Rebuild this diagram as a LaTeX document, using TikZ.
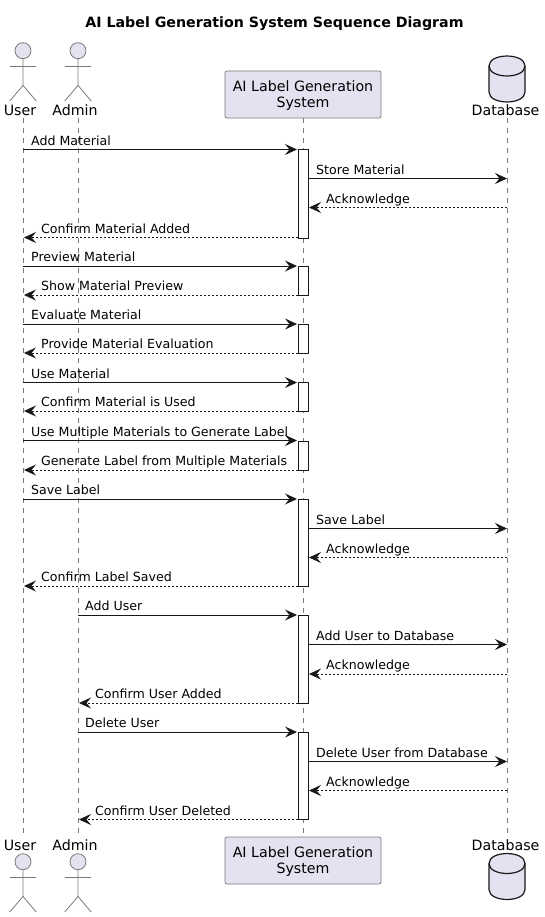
\documentclass[tikz,border=0pt]{standalone}
\usepackage{fontspec}
\setmainfont{DejaVu Sans}
\usetikzlibrary{arrows.meta,shapes.geometric}
\definecolor{pfill}{HTML}{E2E2F0}
\definecolor{pline}{HTML}{181818}
\definecolor{aline}{HTML}{7A7A7A}
\tikzset{
  x=1pt,y=-1pt,
  life/.style={draw=aline,line width=.6pt,dash pattern=on 5pt off 5pt},
  actorline/.style={draw=aline,line width=.8pt},
  tip/.style={-{Stealth[length=12pt,width=11pt,inset=4.5pt,fill=pline]}},
  sync/.style={draw=pline,line width=1pt,tip},
  reply/.style={draw=pline,line width=.8pt,dash pattern=on 2pt off 2pt,tip},
  msgtext/.style={font=\fontsize{12.6}{15}\selectfont,text=black,inner sep=0pt,anchor=base west},
  ptext/.style={font=\fontsize{14.2}{16.5}\selectfont,text=black,inner sep=0pt,anchor=center,align=center},
  sysbox/.style={draw=aline,fill=pfill,rounded corners=2pt,line width=.7pt,minimum width=156pt,minimum height=47pt,inner sep=0pt},
  activ/.style={draw=pline,fill=white,line width=.9pt},
}
\newcommand{\actorfig}[3]{%
  \node[circle,draw=aline,fill=pfill,line width=.8pt,minimum size=16pt,inner sep=0pt] (#3head) at (#1,#2) {};
  \draw[actorline] (#3head.south) -- ++(0,26.3) coordinate (#3hip) -- ++(-13.3,15.7) coordinate (#3ll);
  \draw[actorline] (#3hip) -- ++(13.3,15.7) coordinate (#3rl);
  \draw[actorline] (#1-13.3,#2+15.6) -- (#1+13.3,#2+15.6);
}
\newcommand{\dbfig}[3]{%
  \draw[draw=pline,fill=pfill,line width=1.2pt] (#1-18,#2+10) .. controls (#1-18,#2-3.3) and (#1+18,#2-3.3) .. (#1+18,#2+10) -- (#1+18,#2+36)
    .. controls (#1+18,#2+49.3) and (#1-18,#2+49.3) .. (#1-18,#2+36) -- cycle;
  \draw[draw=pline,line width=1.2pt] (#1-18,#2+10) .. controls (#1-18,#2+23.3) and (#1+18,#2+23.3) .. (#1+18,#2+10);
  \coordinate (#3) at (#1,#2);
}
\newcommand{\msg}[6]{% name, style, from x, to x, y, label
  \coordinate (#1a) at (#3,#5);
  \coordinate (#1b) at (#4,#5);
  \draw[#2] (#1a) -- (#1b);
  \node[msgtext] (#1t) at (\lx,#5-4.2) {#6};%
}
\begin{document}
\begin{tikzpicture}
\useasboundingbox (0,0) rectangle (545,917);
\node[font=\bfseries\fontsize{14.2}{16}\selectfont,inner sep=0pt] (title) at (274.5,23.5) {AI Label Generation System Sequence Diagram};

% participant labels and boxes
\node[ptext] (userT) at (20,110) {User};
\node[ptext] (adminT) at (75,110) {Admin};
\node[sysbox] (sysT) at (303,94.5) {};
\node[ptext] (sysTt) at (303,95.7) {AI Label Generation\\[-0.3pt]System};
\node[ptext] (dbT) at (505.5,110) {Database};
\node[ptext] (userB) at (20,845.5) {User};
\node[ptext] (adminB) at (75,845.5) {Admin};
\node[sysbox] (sysB) at (303,860.5) {};
\node[ptext] (sysBt) at (303,861.5) {AI Label Generation\\[-0.3pt]System};
\node[ptext] (dbB) at (505.5,845.5) {Database};

% lifelines
\coordinate (uT) at (23,118); \coordinate (uB) at (23,834);
\coordinate (aT) at (78,118); \coordinate (aB) at (78,834);
\coordinate (dT) at (507,118); \coordinate (dB) at (507,834);
\draw[life] (uT) -- (uB);
\draw[life] (aT) -- (aB);
\draw[life] (sysT.south) -- (sysB.north);
\draw[life] (dT) -- (dB);

% actors and databases
\actorfig{23}{50.7}{ua}
\actorfig{78}{50.7}{ad}
\dbfig{507}{56}{dbtop}
\actorfig{23}{861.7}{ub}
\actorfig{78}{861.7}{bd}
\dbfig{507}{853.5}{dbbot}

% activations
\foreach \n/\t/\h in {b1/149.5/88,b2/266/29,b3/324/29,b4/382/29,b5/440.5/29.5,b6/499/87,b7/615/88,b8/732/87}
  \node[activ,minimum width=10pt,minimum height=\h pt,inner sep=0pt,anchor=north] (\n) at (303,\t) {};

% messages
\def\lx{31}\msg{m1}{sync}{23}{297}{149.5}{Add Material}
\def\lx{316}\msg{m2}{sync}{308}{507}{178.5}{Store Material}
\def\lx{326}\msg{m3}{reply}{507}{309}{207.5}{Acknowledge}
\def\lx{41}\msg{m4}{reply}{298}{24}{237.5}{Confirm Material Added}
\def\lx{31}\msg{m5}{sync}{23}{297}{266}{Preview Material}
\def\lx{41}\msg{m6}{reply}{298}{24}{295}{Show Material Preview}
\def\lx{31}\msg{m7}{sync}{23}{297}{324}{Evaluate Material}
\def\lx{41}\msg{m8}{reply}{298}{24}{353}{Provide Material Evaluation}
\def\lx{31}\msg{m9}{sync}{23}{297}{382.5}{Use Material}
\def\lx{41}\msg{m10}{reply}{298}{24}{411}{Confirm Material is Used}
\def\lx{31}\msg{m11}{sync}{23}{297}{440.5}{Use Multiple Materials to Generate Label}
\def\lx{41}\msg{m12}{reply}{298}{24}{470}{Generate Label from Multiple Materials}
\def\lx{31}\msg{m13}{sync}{23}{297}{499}{Save Label}
\def\lx{316}\msg{m14}{sync}{308}{507}{528.5}{Save Label}
\def\lx{326}\msg{m15}{reply}{507}{309}{557.5}{Acknowledge}
\def\lx{41}\msg{m16}{reply}{298}{24}{586}{Confirm Label Saved}
\def\lx{85}\msg{m17}{sync}{78}{297}{615}{Add User}
\def\lx{316}\msg{m18}{sync}{308}{507}{644.5}{Add User to Database}
\def\lx{326}\msg{m19}{reply}{507}{309}{674}{Acknowledge}
\def\lx{95}\msg{m20}{reply}{298}{79}{703}{Confirm User Added}
\def\lx{85}\msg{m21}{sync}{78}{297}{732}{Delete User}
\def\lx{316}\msg{m22}{sync}{308}{507}{761.5}{Delete User from Database}
\def\lx{326}\msg{m23}{reply}{507}{309}{790.5}{Acknowledge}
\def\lx{95}\msg{m24}{reply}{298}{79}{819.5}{Confirm User Deleted}
\end{tikzpicture}
\end{document}
